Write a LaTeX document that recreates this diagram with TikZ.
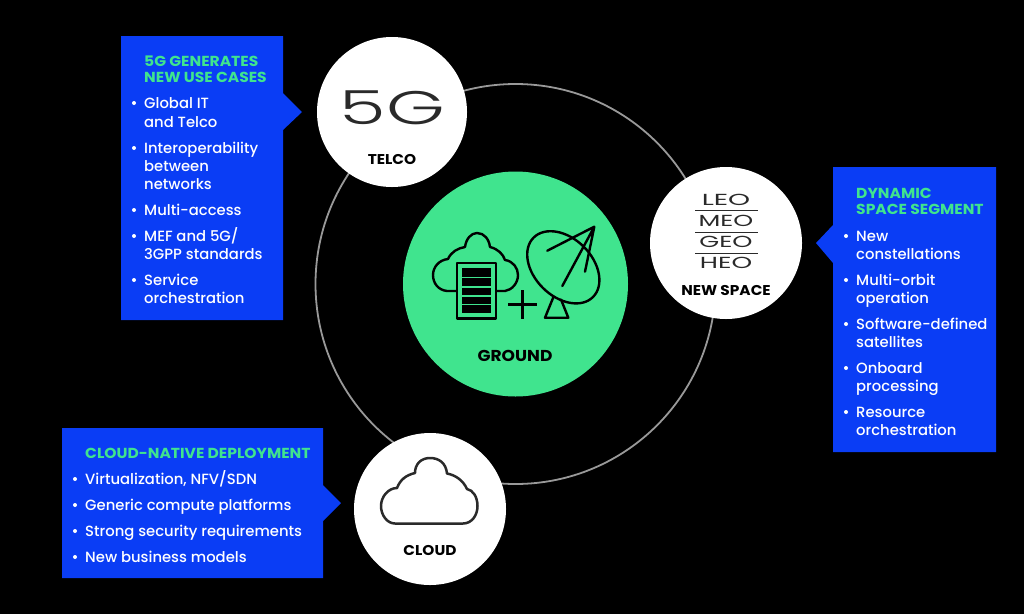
\documentclass[tikz,border=0pt]{standalone}
\usepackage{fontspec}
\setmainfont{Poppins}[UprightFont=* Medium,BoldFont=* Bold]
\newfontfamily\lightfont{Poppins}[UprightFont=* Light]
\newfontfamily\regfont{Poppins}
\definecolor{bluebox}{HTML}{0A3DF5}
\definecolor{mint}{HTML}{40E48E}
\definecolor{ink}{HTML}{2A2A2A}
\newcount\tcnt
\newcommand{\tline}[3]{\global\advance\tcnt by 1\relax\node[#1] (t\the\tcnt) at (#2) {#3};}
\tikzset{
  bodytxt/.style={anchor=base west,inner sep=0,text=white,font=\fontsize{14.8}{16}\selectfont},
  titletxt/.style={anchor=base west,inner sep=0,text=mint,xscale=1.07,font=\fontsize{14.5}{16}\selectfont\bfseries},
  disc/.style={circle,fill=white,draw=none,minimum size=#1,inner sep=0},
  tag/.style={inner sep=0,text=black,xscale=1.08,font=\fontsize{14.2}{15}\selectfont\bfseries},
  wide/.style={inner sep=0,text=ink,font=\lightfont\fontsize{#1}{#1}\selectfont},
  orbit/.style={inner sep=0,text=ink,xscale=#1,font=\regfont\fontsize{16}{16}\selectfont},
  ico/.style={line width=2.4pt,draw=#1,line join=round,line cap=round}
}
\begin{document}
\begin{tikzpicture}[x=1pt,y=-1pt]
\useasboundingbox (0,0) rectangle (1024,614);
\fill[black] (0,0) rectangle (1024,614);
% ring and discs
\draw[color=black!40!white,line width=1.8pt] (515.5,284) circle (200);
\node[disc=225pt,fill=mint] (ground) at (515.5,284) {};
\node[disc=150pt] (telco) at (392,112) {};
\node[disc=152pt] (space) at (726,243) {};
\node[disc=152pt] (cloud) at (430,509) {};
% blue boxes
\fill[bluebox] (121,36) -- (283,36) -- (283,93) -- (302,112) -- (283,130) -- (283,320) -- (121,320) -- cycle;
\fill[bluebox] (833,167) -- (996,167) -- (996,452) -- (833,452) -- (833,263) -- (816,243) -- (833,225) -- cycle;
\fill[bluebox] (62,428) -- (323,428) -- (323,485) -- (341,503) -- (323,521) -- (323,578) -- (62,578) -- cycle;
% box 1
\tline{titletxt}{144,66}{5G GENERATES}
\tline{titletxt}{144,82}{NEW USE CASES}
\fill[white] (134,103) circle (2);
\fill[white] (134,148) circle (2);
\fill[white] (134,210) circle (2);
\fill[white] (134,236) circle (2);
\fill[white] (134,280) circle (2);
\tline{bodytxt}{144,108}{Global IT}
\tline{bodytxt}{144,127}{and Telco}
\tline{bodytxt}{144,153}{Interoperability}
\tline{bodytxt}{144,171}{between}
\tline{bodytxt}{144,189}{networks}
\tline{bodytxt}{144,215}{Multi-access}
\tline{bodytxt}{144,241}{MEF and 5G/}
\tline{bodytxt}{144,259}{3GPP standards}
\tline{bodytxt}{144,285}{Service}
\tline{bodytxt}{144,303}{orchestration}
% box 2
\tline{titletxt}{856,198}{DYNAMIC}
\tline{titletxt}{856,214}{SPACE SEGMENT}
\fill[white] (846,236) circle (2);
\fill[white] (846,280) circle (2);
\fill[white] (846,324) circle (2);
\fill[white] (846,368) circle (2);
\fill[white] (846,412) circle (2);
\tline{bodytxt}{856,241}{New}
\tline{bodytxt}{856,259}{constellations}
\tline{bodytxt}{856,285}{Multi-orbit}
\tline{bodytxt}{856,303}{operation}
\tline{bodytxt}{856,329}{Software-defined}
\tline{bodytxt}{856,347}{satellites}
\tline{bodytxt}{856,373}{Onboard}
\tline{bodytxt}{856,391}{processing}
\tline{bodytxt}{856,417}{Resource}
\tline{bodytxt}{856,435}{orchestration}
% box 3
\tline{titletxt}{85,458}{CLOUD-NATIVE DEPLOYMENT}
\fill[white] (75,479) circle (2);
\fill[white] (75,505) circle (2);
\fill[white] (75,531) circle (2);
\fill[white] (75,557) circle (2);
\tline{bodytxt}{85,484}{Virtualization, NFV/SDN}
\tline{bodytxt}{85,510}{Generic compute platforms}
\tline{bodytxt}{85,536}{Strong security requirements}
\tline{bodytxt}{85,562}{New business models}
% disc captions
\node[tag] (ltelco) at (392,159) {TELCO};
\node[tag] (lspace) at (726,290) {NEW SPACE};
\node[tag] (lcloud) at (430,550) {CLOUD};
\node[tag,font=\fontsize{15.8}{16}\selectfont\bfseries] (lground) at (515,356) {GROUND};
% 5G
\node[wide=47,xscale=1.6] (five) at (392.5,107.5) {5G};
% orbits
\node[orbit=1.75] (leo) at (726,200) {LEO};
\node[orbit=1.58] (meo) at (726,221) {MEO};
\node[orbit=1.6] (geo) at (726,242) {GEO};
\node[orbit=1.64] (heo) at (726,263) {HEO};
\draw[ink,line width=1pt] (695,210.5) -- (758,210.5) (695,232) -- (758,232) (695,253.5) -- (758,253.5);
% cloud icon
\draw[ico=ink,line width=2.5pt] (395,523.5) -- (463,523.5)
  .. controls (472,523.5) and (477.5,515) .. (477.5,506)
  .. controls (477.5,497) and (473,490) .. (467,489)
  .. controls (463,480) and (455,475) .. (447,473.5)
  .. controls (446,463) and (439,458) .. (430,458)
  .. controls (421,458) and (415,464) .. (415,473)
  .. controls (406,475) and (400,480) .. (397,488)
  .. controls (388,488) and (381,497) .. (381,506)
  .. controls (381,515) and (387,523.5) .. (395,523.5) -- cycle;
% ground icon
\draw[ico=black] (456.7,291) -- (447,291)
  .. controls (438,290) and (433,283) .. (433,275)
  .. controls (433,267) and (439,260) .. (448,259)
  .. controls (451,252) and (458,248) .. (465,247)
  .. controls (466,239) and (471,233) .. (477,233)
  .. controls (484,233) and (489,239) .. (490,247)
  .. controls (498,249) and (503,254) .. (505,260)
  .. controls (513,261) and (518,268) .. (518,275)
  .. controls (518,283) and (512,290) .. (505,291) -- (496,291);
\draw[ico=black,line cap=butt,fill=mint] (456.7,262.7) rectangle (496,318.3);
\fill[black] (461.7,268.3) rectangle (491,276.7);
\fill[black] (461.7,278.3) rectangle (491,286);
\fill[black] (461.7,287.5) rectangle (491,295);
\fill[black] (461.7,296.5) rectangle (491,303.5);
\fill[black] (461.7,305) rectangle (491,312.7);
\draw[ico=black,line cap=butt] (508.3,304.3) -- (536.7,304.3) (522.3,290) -- (522.3,319);
\draw[ico=black,rotate around={-45:(563.3,267.3)}] (563.3,267.3) ellipse [x radius=42,y radius=29];
\draw[ico=black] (547.3,250.7) -- (594.3,226.7) -- (562.3,286) (594.3,226.7) -- (585,271.7);
\draw[ico=black] (553.3,297.3) -- (545,317.7) -- (568.3,317.7) -- (561,299.5);
\end{tikzpicture}
\end{document}
